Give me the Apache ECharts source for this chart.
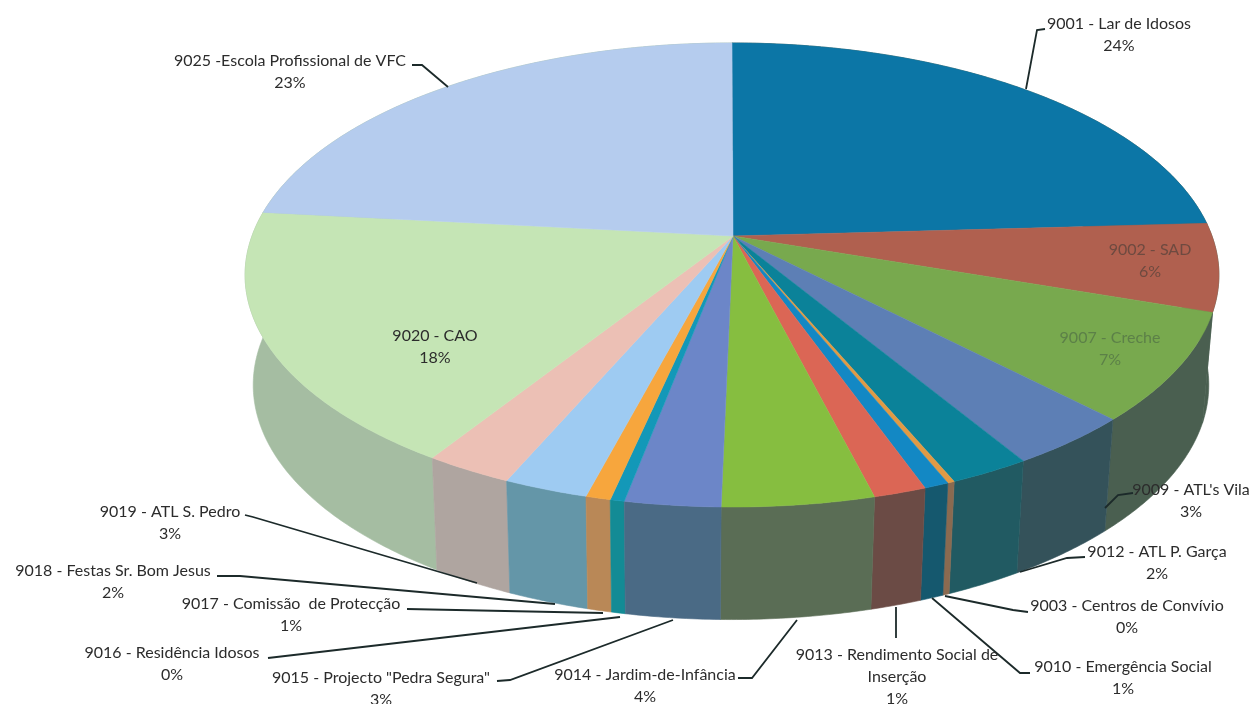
<!DOCTYPE html>
<html>
<head>
<meta charset="utf-8">
<style>
html,body{margin:0;padding:0;background:#fff;overflow:hidden}
#chart{width:1251px;height:704px;filter:blur(0.6px)}
</style>
<script src="https://cdn.jsdelivr.net/npm/echarts@6/dist/echarts.min.js"></script>
</head>
<body>
<div id="chart"></div>
<script>
// ---- data (clockwise from 12 o'clock) ----
const categories = ['9001 - Lar de Idosos','9002 - SAD','9007 - Creche',"9009 - ATL's Vila",'9012 - ATL P. Garça','9003 - Centros de Convívio','9010 - Emergência Social','9013 - Rendimento Social de\nInserção','9014 - Jardim-de-Infância','9015 - Projecto "Pedra Segura"','9016 - Residência Idosos','9017 - Comissão  de Protecção','9018 - Festas Sr. Bom Jesus','9019 - ATL S. Pedro','9020 - CAO','9025 -Escola Profissional de VFC'];
const values = [24.1,6.1,7.5,3.6,2.3,0.2,0.7,1.5,4.3,2.7,0.4,0.7,2.4,2.5,17.7,23.3];
const percentLabels = ['24%','6%','7%','3%','2%','0%','1%','1%','4%','3%','0%','1%','2%','3%','18%','23%'];

// ---- styles ----
const topColors  = ['#0c76a6','#b0604f','#78a94e','#5d7fb5','#0b8299','#e09a45','#1388c4','#db6655','#86be40','#6c86c8','#1398b8','#f7a63d','#9ecbf2','#ecc0b5','#c5e5b5','#b5ccee'];
const wallColors = ['#4a5f50','#4a5f50','#4a5f50','#34525a','#215a62','#8a6a50','#15586e','#6b4b45','#5a6d55','#4a6a85','#138b95','#b98857','#6496a8','#afa5a0','#a5bda2','#a5bda2'];
const labelColors = {1:'#6e4a40',2:'#5c8048'};

// ---- layout ----
const topDisc = {cx:732, cy:236, rx:480, ry:225.5};
const baseDisc = {cx:731, cy:345.5, rx:471, ry:228};
const persp = 0.168;
const labelPos = [[1119,24],[1150,250],[1110,338],[1191,490],[1157,552],[1127,606],[1123,667],[897,655],[645,675],[381,678],[172,653],[291,604],[113,571],[170,512],[435,336],[290,61]];
const leaders = [
 [[1045,29],[1037,30],[1026,89]],null,null,
 [[1133,493],[1118,495],[1105,508]],
 [[1085,557],[1067,558],[1020,572]],
 [[1028,612],[1013,610],[945,596]],
 [[1030,673],[1020,673],[932,598]],
 [[896,607],[896,638]],
 [[738,678],[752,678],[797,620]],
 [[497,681],[510,680],[673,620]],
 [[268,658],[620,617]],
 [[407,609],[603,613]],
 [[217,576],[240,576],[555,604]],
 [[245,515],[253,517],[477,583]],
 null,
 [[412,65],[422,65],[448,87]]
];

const total = values.reduce((a,b)=>a+b,0);
const starts = []; let acc = 0;
values.forEach(v=>{starts.push(acc/total*2*Math.PI); acc+=v;});
function project(d,t){
  const yc=-Math.cos(t), w=1-persp*yc;
  return [d.cx+d.rx*Math.sin(t)/w, d.cy+d.ry*yc/w];
}
function arc(d,a,b){
  const n=Math.max(2,Math.ceil((b-a)/0.01)), pts=[];
  for(let i=0;i<=n;i++) pts.push(project(d,a+(b-a)*i/n));
  return pts;
}
const idx = values.map((_,i)=>i);
const midCos = i=>Math.cos(starts[i]+values[i]/total*Math.PI);
const wallOrder = idx.slice().sort((p,q)=>midCos(q)-midCos(p)); // far to near

function renderWall(params,api){
  const i=api.value(0), a=starts[i], b=a+api.value(1)/total*2*Math.PI;
  const pts=arc(topDisc,a,b).concat(arc(baseDisc,a,b).reverse());
  return {type:'polygon',shape:{points:pts},style:{fill:wallColors[i],stroke:wallColors[i],lineWidth:0.6}};
}
function renderTop(params,api){
  const i=api.value(0), a=starts[i], b=a+api.value(1)/total*2*Math.PI;
  const pts=[[733,236]].concat(arc(topDisc,a,b));
  return {type:'polygon',shape:{points:pts},style:{fill:topColors[i],stroke:topColors[i],lineWidth:0.5}};
}
const graphics=[];
idx.forEach(i=>{
  if(leaders[i]) graphics.push({type:'polyline',z:10,silent:true,shape:{points:leaders[i]},style:{fill:null,stroke:'#1c2a2a',lineWidth:1.8}});
  const lines=categories[i].split('\n').concat(percentLabels[i]);
  const color=labelColors[i]||'#2c2c2c';
  lines.forEach((t,j)=>graphics.push({type:'text',z:11,silent:true,x:labelPos[i][0],y:labelPos[i][1]+j*21.7,
    style:{text:t,fill:color,font:'16px Lato',textAlign:'center',textVerticalAlign:'middle'}}));
});
const chart=echarts.init(document.getElementById('chart'),null,{renderer:'canvas'});
chart.setOption({
  animation:false,
  backgroundColor:'#ffffff',
  series:[
    {type:'custom',coordinateSystem:'none',z:1,silent:true,renderItem:renderWall,data:wallOrder.map(i=>[i,values[i]])},
    {type:'custom',coordinateSystem:'none',z:2,silent:true,renderItem:renderTop,data:idx.map(i=>[i,values[i]])}
  ],
  graphic:graphics
});
</script>
</body>
</html>
